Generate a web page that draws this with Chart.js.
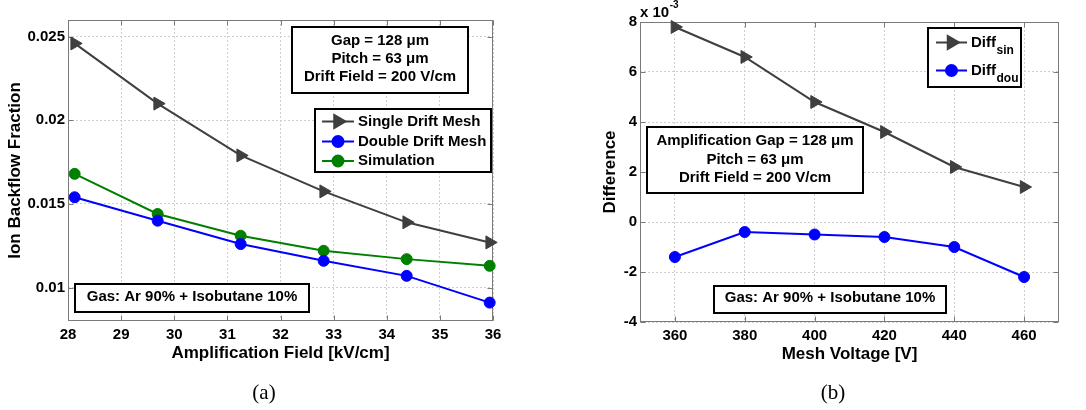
<!DOCTYPE html>
<html>
<head>
<meta charset="utf-8">
<script src="https://cdn.jsdelivr.net/npm/chart.js@4.4.1/dist/chart.umd.min.js"></script>
<style>
  html,body{margin:0;padding:0;background:#fff;}
  body{width:1086px;height:410px;overflow:hidden;position:relative;}
  #wa{position:absolute;left:0;top:0;width:540px;height:410px;}
  #wb{position:absolute;left:540px;top:0;width:546px;height:410px;}
  .cap{position:absolute;top:380px;font-family:"Liberation Serif","DejaVu Serif",serif;font-size:21px;color:#000;transform:translateX(-50%);}
</style>
</head>
<body>
<div id="wa"><canvas id="ca"></canvas></div>
<div id="wb"><canvas id="cb"></canvas></div>
<div class="cap" style="left:264px">(a)</div>
<div class="cap" style="left:833px">(b)</div>
<script>
// ---------------- data ----------------
const ampField = [28.125, 29.6875, 31.25, 32.8125, 34.375, 35.9375];      // kV/cm
const singleDriftMesh = [0.0246, 0.0210, 0.0179, 0.01575, 0.0139, 0.0127];
const doubleDriftMesh = [0.0154, 0.0140, 0.0126, 0.0116, 0.0107, 0.0091];
const simulation      = [0.0168, 0.0144, 0.0131, 0.0122, 0.0117, 0.0113];

const meshVoltage = [360, 380, 400, 420, 440, 460];                        // V
const diffSin = [7.8, 6.6, 4.8, 3.6, 2.2, 1.4];                            // x 10^-3
const diffDou = [-1.4, -0.4, -0.5, -0.6, -1.0, -2.2];                      // x 10^-3

const ticksAx = [28, 29, 30, 31, 32, 33, 34, 35, 36];
const ticksAy = [0.01, 0.015, 0.02, 0.025];
const ticksBx = [360, 380, 400, 420, 440, 460];
const ticksBy = [-4, -2, 0, 2, 4, 6, 8];

const labelsA = ['Single Drift Mesh', 'Double Drift Mesh', 'Simulation'];
const labelsB = ['Diff_sin', 'Diff_dou'];
const notesA = ['Gap = 128 \u03bcm', 'Pitch = 63 \u03bcm', 'Drift Field = 200 V/cm'];
const notesB = ['Amplification Gap = 128 \u03bcm', 'Pitch = 63 \u03bcm', 'Drift Field = 200 V/cm'];
const gasNote = 'Gas: Ar 90% + Isobutane 10%';

// ---------------- styles ----------------
const GRAY = '#3f3f3f', BLUE = '#0000ff', GREEN = '#008000';
const AXIS_COLOR = '#7a7a7a';
const GRID_COLOR = '#cfcfcf';
const TICK_FONT = {family: '"Liberation Sans",Arial,sans-serif', weight: 'bold', size: 15};
const TITLE_FONT = {family: '"Liberation Sans",Arial,sans-serif', weight: 'bold', size: 17, lineHeight: 1.2};
const BOX_FONT = 'bold 15px "Liberation Sans", Arial, sans-serif';

const pts = (xs, ys) => xs.map((x, i) => ({x, y: ys[i]}));

function ds(label, xs, ys, color, style) {
  return {
    label, data: pts(xs, ys),
    borderColor: color, backgroundColor: color,
    pointBackgroundColor: color, pointBorderColor: color,
    borderWidth: 2, pointBorderWidth: 1,
    pointStyle: style, pointRotation: style === 'triangle' ? 90 : 0,
    pointRadius: style === 'triangle' ? 7.5 : 5.5,
    tension: 0, clip: false
  };
}

function fixedTicks(arr) {
  return (scale) => { scale.ticks = arr.map(v => ({value: v})); };
}

// ---------------- plugins ----------------
const framePlugin = {
  id: 'frame',
  beforeDatasetsDraw(chart) {
    const {ctx, chartArea: a, scales} = chart;
    const L = Math.round(a.left) + 0.5, R = Math.round(a.right) - 0.5;
    const T = Math.round(a.top) + 0.5, B = Math.round(a.bottom) - 0.5;
    ctx.save();
    ctx.strokeStyle = AXIS_COLOR; ctx.lineWidth = 1;
    ctx.strokeRect(L, T, R - L, B - T);
    ctx.beginPath();
    scales.x.ticks.forEach(t => {
      const px = Math.round(scales.x.getPixelForValue(t.value)) + 0.5;
      ctx.moveTo(px, B); ctx.lineTo(px, B - 5);
      ctx.moveTo(px, T); ctx.lineTo(px, T + 5);
    });
    scales.y.ticks.forEach(t => {
      const py = Math.round(scales.y.getPixelForValue(t.value)) + 0.5;
      ctx.moveTo(L, py); ctx.lineTo(L + 5, py);
      ctx.moveTo(R, py); ctx.lineTo(R - 5, py);
    });
    ctx.stroke();
    ctx.restore();
  }
};

function drawBox(ctx, b) {
  ctx.fillStyle = '#fff';
  ctx.fillRect(b.x0, b.y0, b.x1 - b.x0, b.y1 - b.y0);
  ctx.strokeStyle = '#000'; ctx.lineWidth = 2;
  ctx.strokeRect(b.x0, b.y0, b.x1 - b.x0, b.y1 - b.y0);
}

const overlayPlugin = {
  id: 'overlay',
  afterDatasetsDraw(chart, args, o) {
    const ctx = chart.ctx;
    ctx.save();
    (o.boxes || []).forEach(b => {
      drawBox(ctx, b);
      ctx.fillStyle = '#000'; ctx.font = BOX_FONT;
      ctx.textAlign = 'center'; ctx.textBaseline = 'middle';
      const cx = (b.x0 + b.x1) / 2;
      b.lines.forEach((t, i) => ctx.fillText(t, cx, b.ys[i]));
    });
    const L = o.legend;
    if (L) {
      drawBox(ctx, L);
      chart.data.datasets.forEach((d, i) => {
        const y = L.rows[i];
        ctx.strokeStyle = d.borderColor; ctx.lineWidth = 2;
        ctx.beginPath(); ctx.moveTo(L.lx0, y); ctx.lineTo(L.lx1, y); ctx.stroke();
        ctx.fillStyle = d.pointBackgroundColor; ctx.strokeStyle = d.pointBorderColor;
        Chart.helpers.drawPoint(ctx, {pointStyle: d.pointStyle, rotation: d.pointRotation, radius: d.pointRadius, borderWidth: 1}, (L.lx0 + L.lx1) / 2, y);
        const parts = d.label.split('_');
        ctx.fillStyle = '#000'; ctx.textAlign = 'left';
        ctx.font = BOX_FONT;
        if (parts.length === 1) {
          ctx.textBaseline = 'middle';
          ctx.fillText(parts[0], L.tx, y);
        } else {
          ctx.textBaseline = 'alphabetic';
          ctx.fillText(parts[0], L.tx, y + 4.5);
          const w = ctx.measureText(parts[0]).width;
          ctx.font = 'bold 12px "Liberation Sans", Arial, sans-serif';
          ctx.fillText(parts[1], L.tx + w + 0.5, y + 11);
        }
      });
    }
    if (o.exponent) {
      const a = chart.chartArea;
      ctx.fillStyle = '#000'; ctx.textAlign = 'left'; ctx.textBaseline = 'alphabetic';
      ctx.font = 'bold 15px "Liberation Sans",Arial,sans-serif';
      ctx.fillText('x 10', a.left, 17);
      const w = ctx.measureText('x 10').width;
      ctx.font = 'bold 10px "Liberation Sans",Arial,sans-serif';
      ctx.fillText(o.exponent, a.left + w + 0.5, 8);
    }
    ctx.restore();
  }
};

function axis(min, max, ticksArr, title, tickPad, fitSize, horizontal, fmt, titlePad) {
  return {
    type: 'linear', min, max,
    afterBuildTicks: fixedTicks(ticksArr),
    afterFit: (s) => { if (horizontal) s.height = fitSize; else s.width = fitSize; },
    ticks: {color: '#000', font: TICK_FONT, padding: tickPad, autoSkip: false, maxRotation: 0,
            callback: fmt || ((v) => String(v))},
    grid: {color: GRID_COLOR, lineWidth: 1, drawTicks: false},
    border: {display: false, dash: [2, 2]},
    title: {display: true, text: title, color: '#000', font: TITLE_FONT, padding: titlePad}
  };
}

Chart.defaults.animation = false;

// ---------------- chart (a) ----------------
new Chart(document.getElementById('ca'), {
  type: 'line',
  data: {datasets: [
    ds(labelsA[0], ampField, singleDriftMesh, GRAY, 'triangle'),
    ds(labelsA[1], ampField, doubleDriftMesh, BLUE, 'circle'),
    ds(labelsA[2], ampField, simulation, GREEN, 'circle')
  ]},
  options: {
    responsive: true, maintainAspectRatio: false, animation: false,
    layout: {padding: {left: 0, top: 20, right: 47, bottom: 39}},
    plugins: {
      legend: {display: false}, tooltip: {enabled: false},
      overlay: {
        boxes: [
          {x0: 292, y0: 27, x1: 468, y1: 93, lines: notesA, ys: [40.5, 59, 77]},
          {x0: 75, y0: 284, x1: 309, y1: 312, lines: [gasNote], ys: [297]}
        ],
        legend: {x0: 315, y0: 109, x1: 491, y1: 172, rows: [121.5, 141.5, 161], lx0: 322, lx1: 354, tx: 358}
      }
    },
    scales: {
      x: axis(28, 36, ticksAx, 'Amplification Field [kV/cm]', 5, 50, true, null, {top: 0, bottom: 7}),
      y: axis(0.008, 0.026, ticksAy, 'Ion Backflow Fraction', 3, 68, false,
              (v) => String(Number(v.toFixed(6))), {top: 5, bottom: 0})
    }
  },
  plugins: [framePlugin, overlayPlugin]
});

// ---------------- chart (b) ----------------
new Chart(document.getElementById('cb'), {
  type: 'line',
  data: {datasets: [
    ds(labelsB[0], meshVoltage, diffSin, GRAY, 'triangle'),
    ds(labelsB[1], meshVoltage, diffDou, BLUE, 'circle')
  ]},
  options: {
    responsive: true, maintainAspectRatio: false, animation: false,
    layout: {padding: {left: 0, top: 22, right: 27, bottom: 38}},
    plugins: {
      legend: {display: false}, tooltip: {enabled: false},
      overlay: {
        boxes: [
          {x0: 107, y0: 127, x1: 323, y1: 193, lines: notesB, ys: [140.5, 160, 177.5]},
          {x0: 174, y0: 286, x1: 406, y1: 313, lines: [gasNote], ys: [298]}
        ],
        legend: {x0: 388, y0: 28, x1: 481, y1: 87, rows: [42.5, 70.5], lx0: 396, lx1: 427, tx: 431},
        exponent: '-3'
      }
    },
    scales: {
      x: axis(350, 470, ticksBx, 'Mesh Voltage [V]', 5, 50, true, null, {top: 0, bottom: 7}),
      y: axis(-4, 8, ticksBy, 'Difference', 3, 100, false, null, {top: 60, bottom: 0})
    }
  },
  plugins: [framePlugin, overlayPlugin]
});
</script>
</body>
</html>
